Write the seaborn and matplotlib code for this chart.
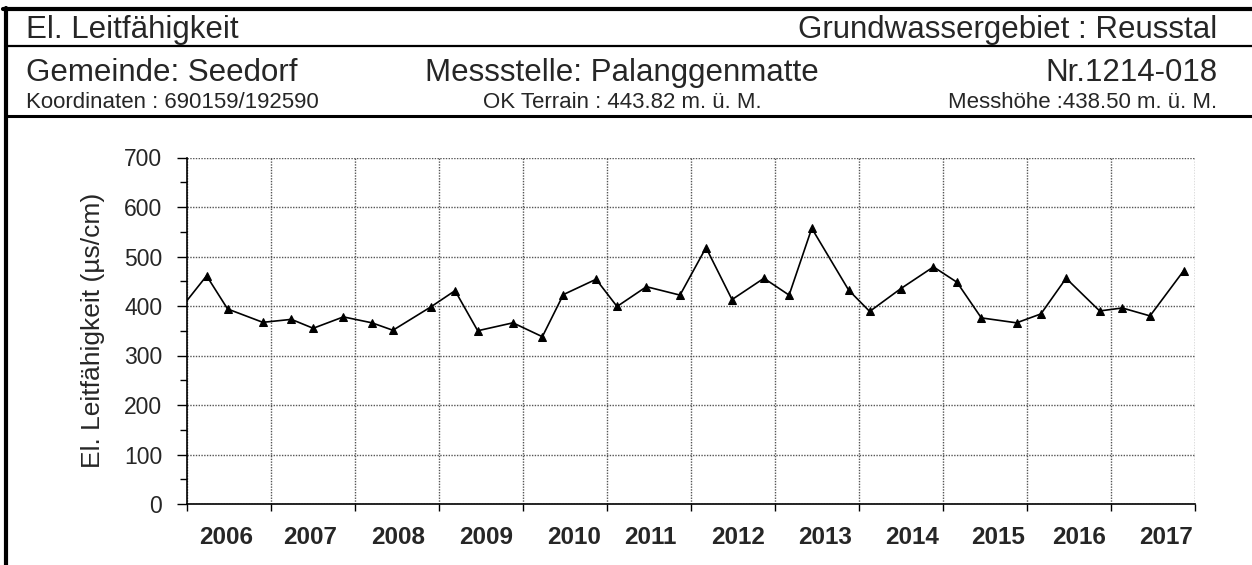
import matplotlib
matplotlib.use("Agg")
import matplotlib.pyplot as plt
from matplotlib.lines import Line2D
from matplotlib.ticker import FixedLocator, NullFormatter, FixedFormatter
import seaborn as sns
import pandas as pd

# Sampling dates (decimal years) and conductivity readings (µS/cm)
sample_time = [2005.87,
               2006.23, 2006.48, 2006.90, 2007.24, 2007.50, 2007.86,
               2008.20, 2008.45, 2008.90, 2009.19, 2009.46, 2009.88,
               2010.23, 2010.48, 2010.87, 2011.12, 2011.47, 2011.87,
               2012.18, 2012.49, 2012.87, 2013.17, 2013.44, 2013.88,
               2014.13, 2014.50, 2014.89, 2015.17, 2015.46, 2015.88,
               2016.17, 2016.47, 2016.87, 2017.14, 2017.47, 2017.87]
conductivity = [384,
                461, 394, 367, 373, 355, 378,
                366, 351, 398, 431, 350, 366,
                338, 423, 454, 399, 439, 422,
                518, 413, 456, 422, 557, 432,
                389, 435, 479, 448, 376, 366,
                384, 456, 390, 396, 380, 471]

year_bounds = list(range(2006, 2019))
year_labels = ["2006", "2007", "2008", "2009", "2010", "2011",
               "2012", "2013", "2014", "2015", "2016", "2017"]
year_label_pos = [2006.46, 2007.46, 2008.51, 2009.56, 2010.61, 2011.52,
                  2012.56, 2013.60, 2014.63, 2015.66, 2016.62, 2017.66]
y_ticks = [0, 100, 200, 300, 400, 500, 600, 700]
y_minor = [50, 150, 250, 350, 450, 550, 650]

df = pd.DataFrame({"t": sample_time, "ec": conductivity})

sns.set_style("white")
plt.rcParams["font.family"] = ["Liberation Sans", "DejaVu Sans"]

W, H = 1252, 565
fig = plt.figure(figsize=(W / 100, H / 100), dpi=100)

def fx(px):
    return px / W

def fy(py):
    return 1 - py / H

ax = fig.add_axes([fx(187.3), fy(504), fx(1194.5) - fx(187.3), fy(157.5) - fy(504)])

sns.lineplot(data=df, x="t", y="ec", ax=ax, color="black", linewidth=1.2,
             marker="^", markersize=6, markeredgecolor="black",
             markerfacecolor="black", clip_on=True)

ax.set_xlim(year_bounds[0], year_bounds[-1])
ax.set_ylim(y_ticks[0], y_ticks[-1])

# y axis
ax.yaxis.set_major_locator(FixedLocator(y_ticks))
ax.yaxis.set_minor_locator(FixedLocator(y_minor))
ax.set_yticklabels([str(v) for v in y_ticks])
ax.tick_params(axis="y", which="major", direction="out", length=7, width=1,
               color="black", labelsize=16.5, pad=11, left=True)
ax.tick_params(axis="y", which="minor", direction="out", length=5, width=1,
               color="black", left=True)

# x axis: year boundaries carry the ticks, year names sit between them
ax.xaxis.set_major_locator(FixedLocator(year_bounds))
ax.xaxis.set_major_formatter(NullFormatter())
ax.xaxis.set_minor_locator(FixedLocator(year_label_pos))
ax.xaxis.set_minor_formatter(FixedFormatter(year_labels))
ax.tick_params(axis="x", which="major", direction="out", length=5, width=1,
               color="black", bottom=True)
ax.tick_params(axis="x", which="minor", length=0, pad=16, labelsize=17.5)
for lbl in ax.get_xticklabels(minor=True):
    lbl.set_fontweight("bold")

ax.grid(True, which="major", color="#555555", linestyle=(0, (1, 1)), linewidth=1.0)
ax.set_axisbelow(True)

for side in ("top", "right"):
    ax.spines[side].set_visible(False)
for side in ("left", "bottom"):
    ax.spines[side].set_color("black")
    ax.spines[side].set_linewidth(1.2)

ax.set_xlabel("")
ax.set_ylabel("El. Leitfähigkeit (µs/cm)", fontsize=19, labelpad=14)

# Header frame
fig.add_artist(Line2D([fx(3), fx(W)], [fy(9), fy(9)], color="black", linewidth=3.0))
fig.add_artist(Line2D([fx(5.5), fx(5.5)], [fy(7.5), fy(H)], color="black", linewidth=3.0))
fig.add_artist(Line2D([fx(5), fx(W)], [fy(46), fy(46)], color="black", linewidth=1.6))
fig.add_artist(Line2D([fx(5), fx(W)], [fy(116), fy(116)], color="black", linewidth=2.2))

big = 22.5
small = 16
fig.text(fx(26), fy(38), "El. Leitfähigkeit", fontsize=big, ha="left", va="baseline")
fig.text(fx(1217), fy(38), "Grundwassergebiet : Reusstal", fontsize=big, ha="right", va="baseline")
fig.text(fx(26), fy(81), "Gemeinde: Seedorf", fontsize=big, ha="left", va="baseline")
fig.text(fx(622), fy(81), "Messstelle: Palanggenmatte", fontsize=big, ha="center", va="baseline")
fig.text(fx(1217), fy(81), "Nr.1214-018", fontsize=big, ha="right", va="baseline")
fig.text(fx(26), fy(108), "Koordinaten : 690159/192590", fontsize=small, ha="left", va="baseline")
fig.text(fx(622), fy(108), "OK Terrain : 443.82 m. ü. M.", fontsize=small, ha="center", va="baseline")
fig.text(fx(1217), fy(108), "Messhöhe :438.50 m. ü. M.", fontsize=small, ha="right", va="baseline")

fig.savefig("out.png", dpi=100)
